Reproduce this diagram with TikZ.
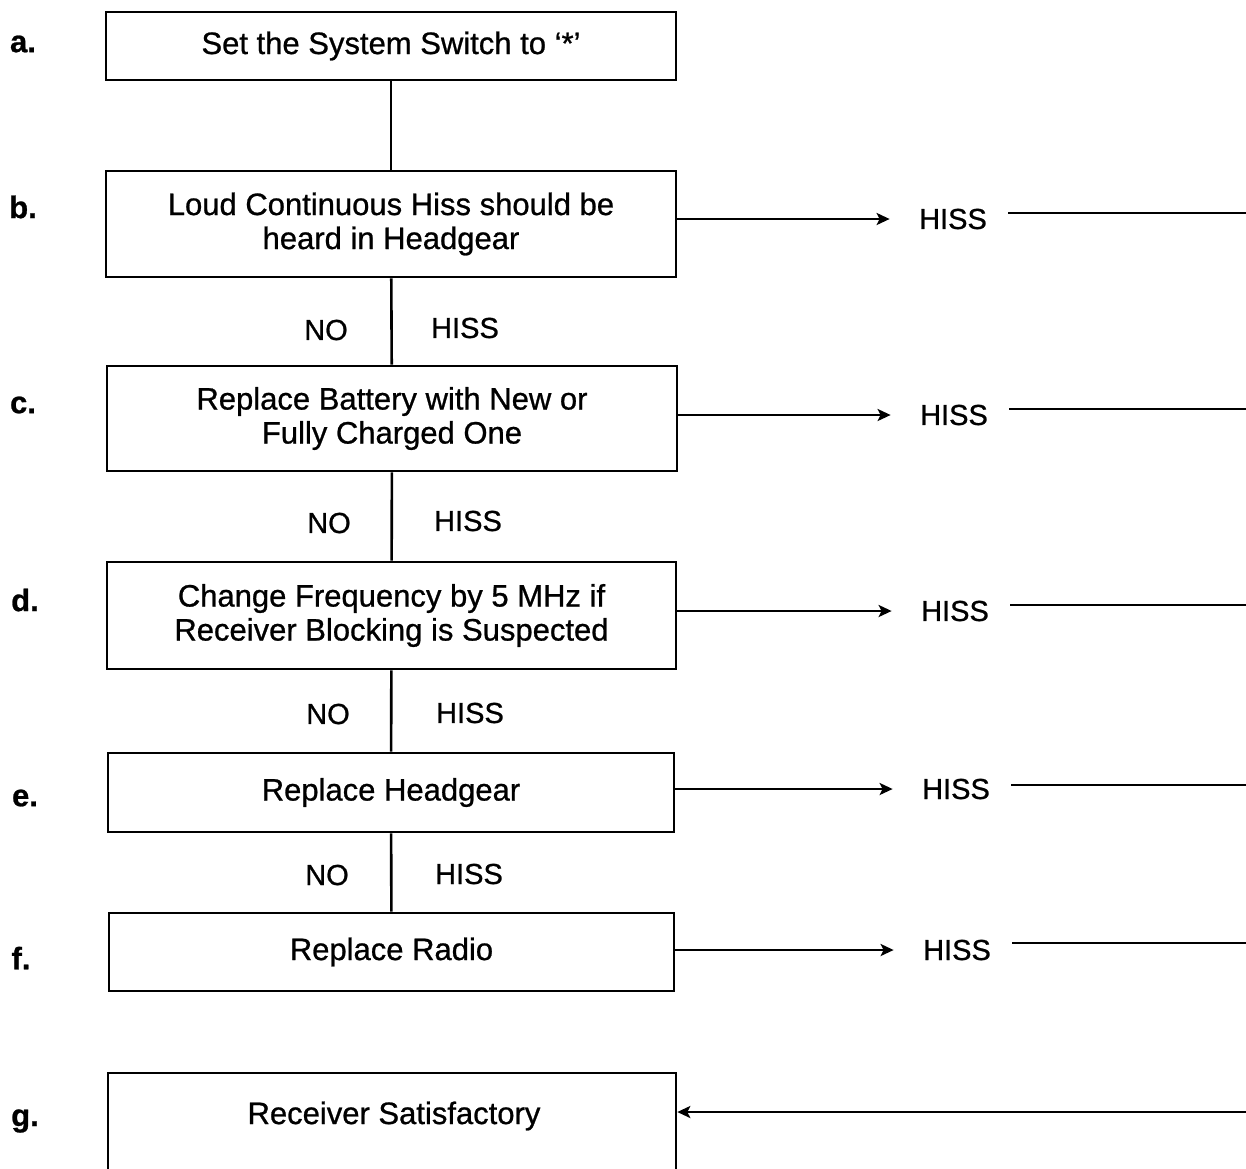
\documentclass[tikz,border=0pt]{standalone}
\usepackage{fontspec}
\setmainfont{Liberation Sans}[FakeBold=0.8]
\usetikzlibrary{arrows.meta}
\begin{document}
\begin{tikzpicture}[x=1pt,y=-1pt,
  box/.style={draw, line width=2.6pt, inner sep=0pt, align=center, font=\fontsize{31}{34}\selectfont},
  lbl/.style={font=\fontsize{31}{34}\selectfont\bfseries},
  txt/.style={font=\fontsize{29}{34}\selectfont},
  conn/.style={line width=2.6pt},
  arr/.style={line width=2.6pt, -{Stealth[length=13pt,width=12pt,inset=3pt]}}]
\useasboundingbox (0,0) rectangle (1246,1168);
\clip (0,0) rectangle (1246,1168);
\fill[white] (0,0) rectangle (1246,1168);
% boxes
\node[box, minimum width=570pt, minimum height=68pt] (a) at (391,46) {Set the System Switch to ‘*’};
\node[box, minimum width=570pt, minimum height=106pt] (b) at (391,224) {Loud Continuous Hiss should be\\heard in Headgear};
\node[box, minimum width=570pt, minimum height=105pt] (c) at (392,418.5) {Replace Battery with New or\\Fully Charged One};
\node[box, minimum width=569pt, minimum height=107pt] (d) at (391.5,615.5) {Change Frequency by 5 MHz if\\Receiver Blocking is Suspected};
\node[box, minimum width=566pt, minimum height=79pt] (e) at (391,792.5) {Replace Headgear};
\node[box, minimum width=565pt, minimum height=78pt] (f) at (391.5,952) {Replace Radio};
\node[box, minimum width=568pt, minimum height=140pt] (g) at (392,1143) {};
\node[font=\fontsize{31}{34}\selectfont] (gt) at (394,1116) {Receiver Satisfactory};
% step letters
\node[lbl] (la) at (23,44) {a.};
\node[lbl] (lb) at (23,207) {b.};
\node[lbl] (lc) at (23,405) {c.};
\node[lbl] (ld) at (25,600) {d.};
\node[lbl] (le) at (25,798) {e.};
\node[lbl] (lf) at (21,958) {f.};
\node[lbl] (lg) at (25,1121) {g.};
% vertical connectors
\draw[conn] (a) -- (b);
\draw[conn] (b) -- (c);
\draw[conn] (c) -- (d);
\draw[conn] (d) -- (e);
\draw[conn] (e) -- (f);
% NO / HISS labels
\node[txt] (nob) at (326,330) {NO};
\node[txt] (hsb) at (465,328) {HISS};
\node[txt] (noc) at (329,523) {NO};
\node[txt] (hsc) at (468,521) {HISS};
\node[txt] (nod) at (328,714) {NO};
\node[txt] (hsd) at (470,713) {HISS};
\node[txt] (noe) at (327,875) {NO};
\node[txt] (hse) at (469,874) {HISS};
% right HISS outputs
\node[txt] (hb) at (953,219) {HISS};
\node[txt] (hc) at (954,415) {HISS};
\node[txt] (hd) at (955,611) {HISS};
\node[txt] (he) at (956,789) {HISS};
\node[txt] (hf) at (957,950) {HISS};
\coordinate (rb) at (1250,213);
\coordinate (rc) at (1250,409);
\coordinate (rd) at (1250,605);
\coordinate (re) at (1250,785);
\coordinate (rf) at (1250,943);
\coordinate (rg) at (1250,1112);
\foreach \s in {b,c,d,e,f}{
  \draw[arr] (\s.east |- h\s.west) -- ([xshift=-26pt]h\s.west);
  \path (h\s.east) ++(18pt,0) coordinate (s\s);
  \draw[conn] (s\s |- r\s) -- (r\s);
}
\draw[arr] (rg) -- (g.east |- rg);
\end{tikzpicture}
\end{document}
